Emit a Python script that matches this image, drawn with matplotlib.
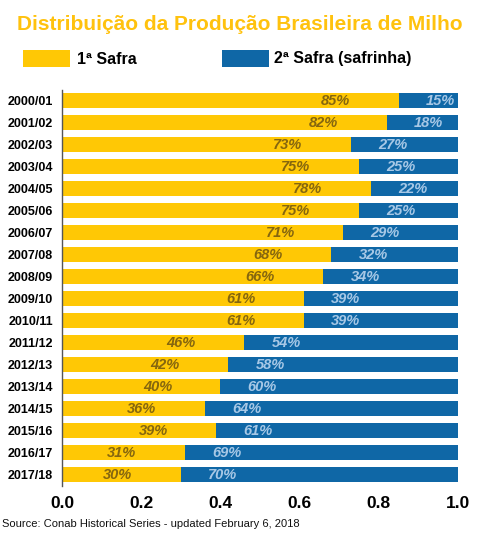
import matplotlib
matplotlib.use("Agg")
import matplotlib.pyplot as plt
from matplotlib.patches import Rectangle

seasons = ["2000/01", "2001/02", "2002/03", "2003/04", "2004/05", "2005/06",
           "2006/07", "2007/08", "2008/09", "2009/10", "2010/11", "2011/12",
           "2012/13", "2013/14", "2014/15", "2015/16", "2016/17", "2017/18"]
first_crop = [85, 82, 73, 75, 78, 75, 71, 68, 66, 61, 61, 46, 42, 40, 36, 39, 31, 30]
second_crop = [15, 18, 27, 25, 22, 25, 29, 32, 34, 39, 39, 54, 58, 60, 64, 61, 69, 70]
xticks = [0.0, 0.2, 0.4, 0.6, 0.8, 1.0]

YELLOW = "#FFC805"
BLUE = "#0F67A6"
FONT = ["Liberation Sans", "DejaVu Sans"]

W, H = 480, 534
fig = plt.figure(figsize=(W / 100, H / 100), dpi=100)
fig.patch.set_facecolor("white")

top_px, bot_px = 89.5, 486
ax = fig.add_axes([62 / W, (H - bot_px) / H, 396 / W, (bot_px - top_px) / H])

y = list(range(len(seasons)))
f1 = [v / 100 for v in first_crop]
f2 = [v / 100 for v in second_crop]
ax.barh(y, f1, height=0.68, color=YELLOW, linewidth=0)
ax.barh(y, f2, left=f1, height=0.68, color=BLUE, linewidth=0)

for i, (a, b) in enumerate(zip(first_crop, second_crop)):
    ax.annotate(f"{a}%", xy=(a / 100, i), xytext=(-63, 0), textcoords="offset pixels",
                ha="center", va="center", fontsize=10.5, fontweight="bold",
                fontstyle="italic", color="#85660F", family=FONT)
    ax.annotate(f"{b}%", xy=(a / 100, i), xytext=(42, 0), textcoords="offset pixels",
                ha="center", va="center", fontsize=10.5, fontweight="bold",
                fontstyle="italic", color="#A7C8E6", family=FONT)

ax.set_ylim(len(seasons) - 0.5, -0.5)
ax.set_xlim(0, 1.0)
ax.set_yticks(y)
ax.set_yticklabels(seasons, fontsize=9, fontweight="bold", family=FONT)
ax.set_xticks(xticks)
ax.set_xticklabels([f"{t:.1f}" for t in xticks], fontsize=12.5, fontweight="bold", family=FONT)
ax.tick_params(axis="both", length=0)
ax.tick_params(axis="y", pad=6.5)
ax.tick_params(axis="x", pad=7)
for s in ["top", "right", "bottom"]:
    ax.spines[s].set_visible(False)
ax.spines["left"].set_color("#555555")
ax.spines["left"].set_linewidth(1.0)

fig.text(240 / W, 1 - 25 / H, "Distribuição da Produção Brasileira de Milho",
         ha="center", va="center", fontsize=15, fontweight="bold",
         color="#FFC20E", family=FONT)

fig.patches.append(Rectangle((22.5 / W, 1 - 66.5 / H), 47 / W, 16.5 / H,
                             transform=fig.transFigure, color=YELLOW, lw=0))
fig.patches.append(Rectangle((221.5 / W, 1 - 66.5 / H), 47 / W, 16.5 / H,
                             transform=fig.transFigure, color=BLUE, lw=0))
fig.text(77 / W, 1 - 59 / H, "1ª Safra", ha="left", va="center", fontsize=11.5,
         fontweight="bold", color="black", family=FONT)
fig.text(274 / W, 1 - 59 / H, "2ª Safra (safrinha)", ha="left", va="center", fontsize=11.5,
         fontweight="bold", color="black", family=FONT)

fig.text(2 / W, 1 - 524 / H, "Source: Conab Historical Series - updated February 6, 2018",
         ha="left", va="center", fontsize=8, color="#111111", family=FONT)

fig.savefig("out.png", dpi=100, facecolor="white")
